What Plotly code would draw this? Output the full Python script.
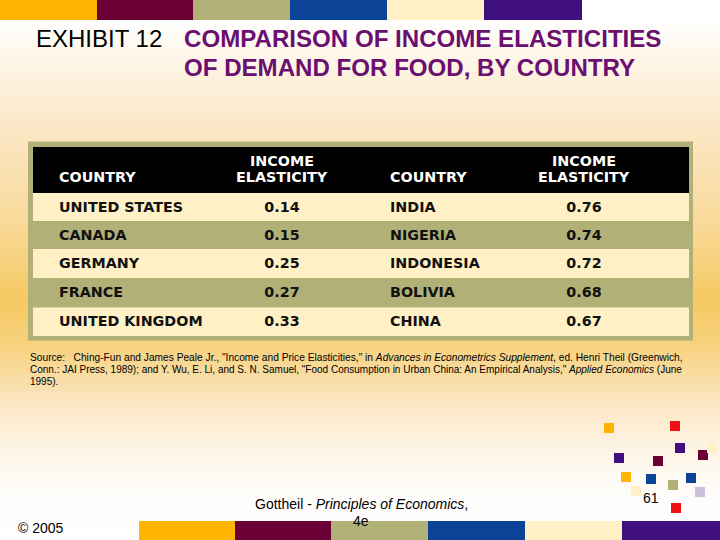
import plotly.graph_objects as go

W = 720
H = 540

countries_left = ['UNITED STATES', 'CANADA', 'GERMANY', 'FRANCE', 'UNITED KINGDOM']
elasticity_left = ['0.14', '0.15', '0.25', '0.27', '0.33']
countries_right = ['INDIA', 'NIGERIA', 'INDONESIA', 'BOLIVIA', 'CHINA']
elasticity_right = ['0.76', '0.74', '0.72', '0.68', '0.67']

source_lines = [
    'Source:   Ching-Fun and James Peale Jr., "Income and Price Elasticities," in <i>Advances in Econometrics Supplement</i>, ed. Henri Theil (Greenwich,',
    'Conn.: JAI Press, 1989); and Y. Wu, E. Li, and S. N. Samuel, "Food Consumption in Urban China: An Empirical Analysis," <i>Applied Economics</i> (June',
    '1995).',
]
source_sizes = [10.2, 10, 10]

ORANGE = '#FFB400'
MAROON = '#6B0035'
OLIVE = '#B0B077'
BLUE = '#0B4397'
CREAM = '#FFF0C5'
PURPLE = '#401080'
RED = '#F01010'
LILAC = '#CDC0DE'

# background fade, top to bottom
bg_y = [0, 20, 80, 140, 220, 300, 345, 400, 440, 490, 540]
bg_level = [0.0, 0.0, 0.28, 0.5, 0.7, 1.0, 0.85, 0.5, 0.25, 0.04, 0.0]

top_edges = [0, 97, 193, 290, 387, 484, 582]
top_colors = [ORANGE, MAROON, OLIVE, BLUE, CREAM, PURPLE]
bottom_edges = [139, 235, 331, 428, 525, 622, 720]
bottom_colors = [ORANGE, MAROON, OLIVE, BLUE, CREAM, PURPLE]

square_x = [609, 675, 680, 703, 712, 619, 658, 626, 651, 691, 673, 700, 636, 676]
square_y = [428, 426, 448, 455, 448, 458, 461, 477, 479, 478, 485, 492, 491, 508]
square_colors = [ORANGE, RED, PURPLE, MAROON, CREAM, PURPLE, MAROON, ORANGE, BLUE, BLUE,
                 OLIVE, LILAC, CREAM, RED]

# table rows, header first
row_edges = [147, 193, 221, 249, 278, 307.5, 336]
row_fills = ['#000000', CREAM, OLIVE, CREAM, OLIVE, CREAM]
row_mid = [(row_edges[i] + row_edges[i + 1]) / 2 for i in range(len(row_fills))]
row_h = [row_edges[i + 1] - row_edges[i] for i in range(len(row_fills))]

fig = go.Figure()

fig.add_trace(go.Heatmap(
    x=[0, W],
    y=bg_y,
    z=[[v, v] for v in bg_level],
    zmin=0,
    zmax=1,
    zsmooth='best',
    showscale=False,
    hoverinfo='skip',
    colorscale=[[0, '#FFFFFF'], [0.5, '#FBE5C0'], [1, '#F5C962']],
))

# olive frame, then the rows on top of it
fig.add_trace(go.Bar(
    y=[241], x=[665], base=28, width=[199], orientation='h',
    marker=dict(color=OLIVE, line=dict(width=0)), hoverinfo='skip',
))
fig.add_trace(go.Bar(
    y=row_mid, x=[656] * len(row_mid), base=33, width=row_h, orientation='h',
    marker=dict(color=row_fills, line=dict(width=0)), hoverinfo='skip',
))

fig.add_trace(go.Scatter(
    x=square_x,
    y=square_y,
    mode='markers',
    hoverinfo='skip',
    marker=dict(symbol='square', size=10, color=square_colors, line=dict(width=0)),
))

cell_font = dict(family='DejaVu Sans', size=14.3, color='#111111')
columns = [
    (59, 'middle right', countries_left),
    (282, 'middle center', elasticity_left),
    (390, 'middle right', countries_right),
    (584, 'middle center', elasticity_right),
]
for col_x, pos, col_values in columns:
    fig.add_trace(go.Scatter(
        x=[col_x] * len(col_values),
        y=[m + 1 for m in row_mid[1:]],
        mode='text',
        text=['<b>%s</b>' % v for v in col_values],
        textposition=pos,
        textfont=cell_font,
        hoverinfo='skip',
    ))

shapes = []
for i, color in enumerate(top_colors):
    shapes.append(dict(type='rect', x0=top_edges[i], x1=top_edges[i + 1], y0=0, y1=20,
                       fillcolor=color, line_width=0, layer='above'))
for i, color in enumerate(bottom_colors):
    shapes.append(dict(type='rect', x0=bottom_edges[i], x1=bottom_edges[i + 1], y0=521, y1=H,
                       fillcolor=color, line_width=0, layer='above'))


def label(x, y, text, size, color='#000000', anchor='left', family='Liberation Sans'):
    return dict(x=x, y=y, text=text, showarrow=False, xanchor=anchor, yanchor='middle',
                align=anchor, font=dict(family=family, size=size, color=color))


annotations = [
    label(34, 38, 'EXHIBIT 12', 24),
    label(182, 38, '<b>COMPARISON OF INCOME ELASTICITIES</b>', 24.1, '#6B0F70'),
    label(182, 67, '<b>OF DEMAND FOR FOOD, BY COUNTRY</b>', 24.1, '#6B0F70'),
    label(16, 528, '© 2005', 14),
    label(361, 504, 'Gottheil - <i>Principles of Economics</i>,', 14, anchor='center'),
    label(361, 521, '4e', 14, anchor='center'),
    label(651, 498, '61', 14, anchor='center'),
]
for i, line in enumerate(source_lines):
    annotations.append(label(28, 357 + i * 12.3, line, source_sizes[i]))

# table header
for head_x, head_anchor, head_y, head_text in [
    (57, 'left', 177, 'COUNTRY'),
    (282, 'center', 160.5, 'INCOME'),
    (282, 'center', 177, 'ELASTICITY'),
    (388, 'left', 177, 'COUNTRY'),
    (584, 'center', 160.5, 'INCOME'),
    (584, 'center', 177, 'ELASTICITY'),
]:
    annotations.append(label(head_x, head_y, '<b>%s</b>' % head_text, 14.3, '#FFFFFF',
                             anchor=head_anchor, family='DejaVu Sans'))

fig.update_layout(
    width=W,
    height=H,
    margin=dict(l=0, r=0, t=0, b=0),
    paper_bgcolor='#FFFFFF',
    plot_bgcolor='#FFFFFF',
    showlegend=False,
    barmode='overlay',
    shapes=shapes,
    annotations=annotations,
    xaxis=dict(range=[0, W], visible=False, fixedrange=True),
    yaxis=dict(range=[H, 0], visible=False, fixedrange=True),
)

fig.write_html("out.html", config=dict(displayModeBar=False),
               post_script="document.body.style.margin = '0';")
